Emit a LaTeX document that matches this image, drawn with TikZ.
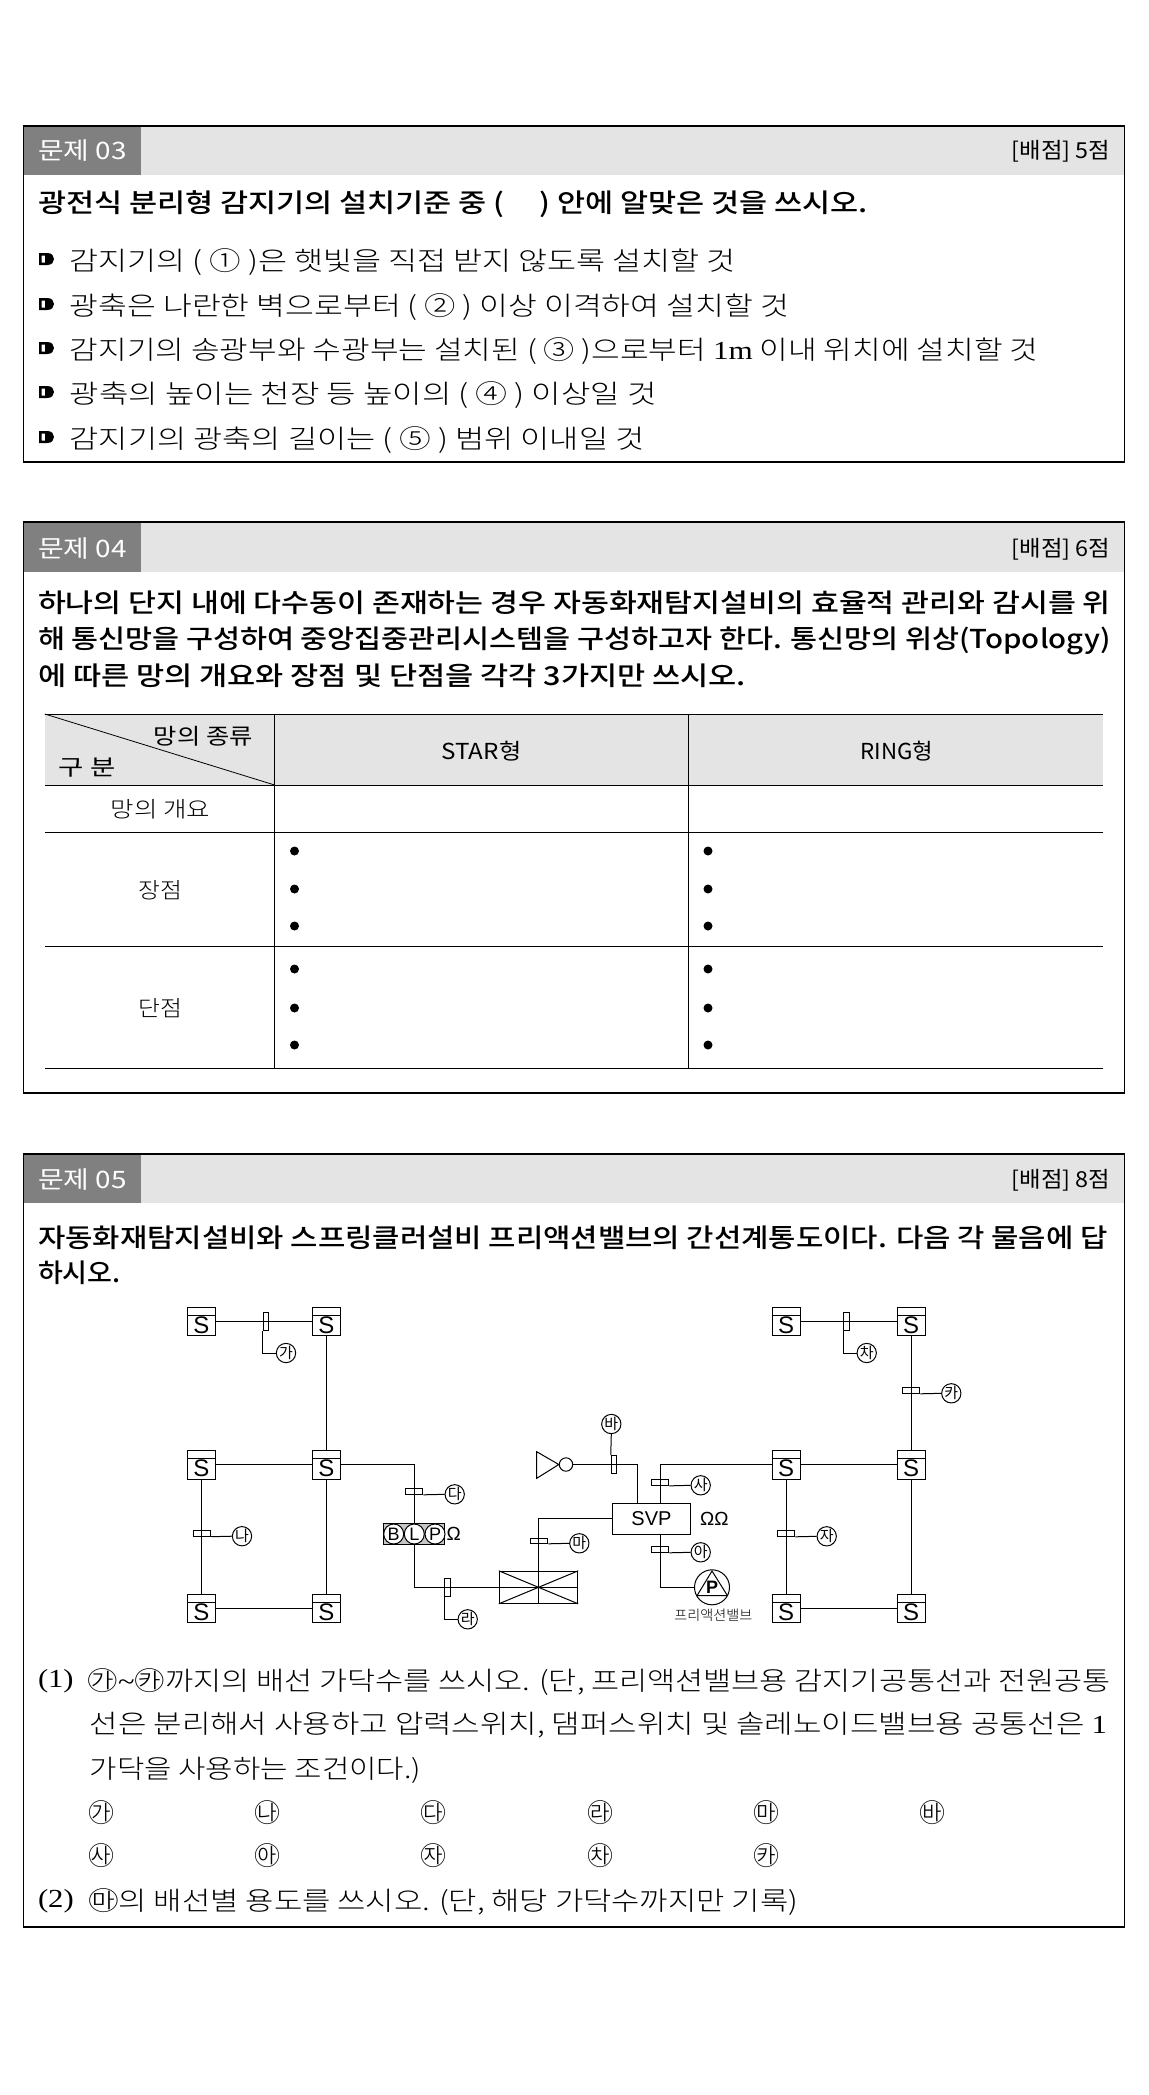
\documentclass[tikz,border=0pt]{standalone}
\usepackage{graphicx}
\usepackage{fontspec}
\setmainfont{Noto Sans CJK KR Light}
\newfontfamily\gt{Noto Sans CJK KR}
\newfontfamily\gtm{Noto Sans CJK KR Medium}
\newfontfamily\ser{Liberation Serif}
\newfontfamily\ari{Liberation Sans}
\newcommand\fitline[2]{\resizebox{#1}{\height}{#2}}
\newcommand\sz[1]{\fontsize{#1}{#1}\selectfont}
\newcommand\dbul[1]{%
  \fill[black,even odd rule] (39,#1-6) -- (47,#1-6) .. controls (52,#1-6) and (54,#1-3) .. (54,#1)
    .. controls (54,#1+3) and (52,#1+6) .. (47,#1+6) -- (39,#1+6) -- cycle
    (41.5,#1-3.5) rectangle (45,#1+3.5);}
\definecolor{hbar}{HTML}{E4E4E4}
\definecolor{hnum}{HTML}{808080}
\tikzset{
  x=1pt,y=-1pt,
  frameln/.style={line width=1.1pt,draw=black},
  tline/.style={line width=1pt,draw=black},
  body/.style={inner sep=0pt,anchor=base west,font=\sz{26}},
  titl/.style={inner sep=0pt,anchor=base west,font=\gtm\sz{26}},
  hdl/.style={inner sep=0pt,anchor=base west,text=white,font=\gt\sz{24}},
  hdr/.style={inner sep=0pt,anchor=base east,font=\gt\sz{22}},
  cell/.style={inner sep=0pt,anchor=base,font=\sz{22}},
  cellg/.style={inner sep=0pt,anchor=base,font=\gt\sz{22}},
  dotn/.style={circle,fill=black,inner sep=0pt,minimum size=9pt},
  wire/.style={line width=1pt,draw=black},
  sbox/.style={rectangle,wire,inner sep=0pt,minimum width=28pt,minimum height=28pt,
    path picture={\draw[wire] ([yshift=-8pt]path picture bounding box.north west) -- ([yshift=-8pt]path picture bounding box.north east);},
    label={[inner sep=0pt,yshift=-4pt,font=\ari\sz{24}]center:S}},
  tv/.style={rectangle,wire,inner sep=0pt,minimum width=5.5pt,minimum height=18pt},
  th/.style={rectangle,wire,inner sep=0pt,minimum width=17.5pt,minimum height=6pt},
  cc/.style={circle,wire,inner sep=0pt,minimum size=18.5pt,font=\gt\sz{15}},
  blpc/.style={circle,wire,fill=white,inner sep=0pt,minimum size=20pt,font=\ari\sz{18}},
}
\begin{document}
\begin{tikzpicture}
\useasboundingbox (0,0) rectangle (1148,2095);
\fill[white] (0,0) rectangle (1148,2095);

% ---------- box 03
\fill[hbar] (23.4,126) rectangle (1124.5,175);
\fill[hnum] (23.4,126) rectangle (141.3,175);
\draw[frameln] (23.4,126) rectangle (1124.5,462);
\node[hdl] (h3) at (37.8,160) {\fitline{88.5pt}{문제 03}};
\node[hdr] (p3) at (1110.3,159) {\fitline{98.5pt}{[배점] 5점}};
\node[titl] (q3) at (37.8,213) {\fitline{830pt}{광전식 분리형 감지기의 설치기준 중 (\hspace{30pt}) 안에 알맞은 것을 쓰시오.}};
\dbul{259}\dbul{304}\dbul{348}\dbul{392}\dbul{437}
\node[body] (a1) at (69.6,270) {\fitline{666pt}{감지기의 ( ① )은 햇빛을 직접 받지 않도록 설치할 것}};
\node[body] (a2) at (69.6,315) {\fitline{719pt}{광축은 나란한 벽으로부터 ( ② ) 이상 이격하여 설치할 것}};
\node[body] (a3) at (69.6,359) {\fitline{968.4pt}{감지기의 송광부와 수광부는 설치된 ( ③ )으로부터 {\ser 1m} 이내 위치에 설치할 것}};
\node[body] (a4) at (69.6,403) {\fitline{587pt}{광축의 높이는 천장 등 높이의 ( ④ ) 이상일 것}};
\node[body] (a5) at (69.6,448) {\fitline{574.6pt}{감지기의 광축의 길이는 ( ⑤ ) 범위 이내일 것}};

% ---------- box 04
\fill[hbar] (23.4,522) rectangle (1124.5,572);
\fill[hnum] (23.4,522) rectangle (141.3,572);
\draw[frameln] (23.4,522) rectangle (1124.5,1093);
\node[hdl] (h4) at (37.8,557) {\fitline{88.5pt}{문제 04}};
\node[hdr] (p4) at (1110.3,556) {\fitline{98.5pt}{[배점] 6점}};
\node[titl] (q4a) at (37.8,612) {\fitline{1072.5pt}{하나의 단지 내에 다수동이 존재하는 경우 자동화재탐지설비의 효율적 관리와 감시를 위}};
\node[titl] (q4b) at (37.8,648) {\fitline{1072.5pt}{해 통신망을 구성하여 중앙집중관리시스템을 구성하고자 한다. 통신망의 위상(Topology)}};
\node[titl] (q4c) at (37.8,685) {\fitline{708pt}{에 따른 망의 개요와 장점 및 단점을 각각 3가지만 쓰시오.}};

\fill[hbar] (44.8,714) rectangle (1103.4,785);
\draw[tline] (44.8,714) -- (1103.4,714);
\draw[tline] (44.8,785) -- (1103.4,785);
\draw[tline] (44.8,832) -- (1103.4,832);
\draw[tline] (44.8,946.5) -- (1103.4,946.5);
\draw[tline] (44.8,1068.5) -- (1103.4,1068.5);
\draw[tline] (274.6,714) -- (274.6,1068.5);
\draw[line width=0.8pt] (688.5,714) -- (688.5,1068.5);
\draw[line width=0.8pt] (44.8,714) -- (274.6,785);
\node[cellg] (th1) at (203.2,744) {\fitline{99pt}{망의 종류}};
\node[cellg] (th2) at (87,775) {\fitline{56.7pt}{구 분}};
\node[cellg] (th3) at (481.5,759) {\fitline{79.6pt}{STAR형}};
\node[cellg] (th4) at (897,759) {\fitline{72.6pt}{RING형}};
\node[cell] (r1) at (160.5,817) {\fitline{99.5pt}{망의 개요}};
\node[cell] (r2) at (160,898) {\fitline{43.8pt}{장점}};
\node[cell] (r3) at (160,1016) {\fitline{43.8pt}{단점}};
\foreach \yy/\nn in {851/a,889/b,926/c,969/d,1008/e,1045/f}{
  \node[dotn] (dl\nn) at (294.5,\yy) {};
  \node[dotn] (dr\nn) at (708,\yy) {};
}

% ---------- box 05
\fill[hbar] (23.4,1154) rectangle (1124.5,1203);
\fill[hnum] (23.4,1154) rectangle (141.3,1203);
\draw[frameln] (23.4,1154) rectangle (1124.5,1927);
\node[hdl] (h5) at (37.8,1188) {\fitline{88.5pt}{문제 05}};
\node[hdr] (p5) at (1110.3,1187) {\fitline{98.5pt}{[배점] 8점}};
\node[titl] (q5a) at (37.8,1247) {\fitline{1069.5pt}{자동화재탐지설비와 스프링클러설비 프리액션밸브의 간선계통도이다. 다음 각 물음에 답}};
\node[titl] (q5b) at (37.8,1282) {\fitline{82.6pt}{하시오.}};

% detectors
\node[sbox] (s11) at (201.5,1321.3) {};
\node[sbox] (s12) at (326.3,1321.3) {};
\node[sbox,minimum height=29pt] (s21) at (201.5,1464.5) {};
\node[sbox,minimum height=29pt] (s22) at (326.3,1464.5) {};
\node[sbox] (s31) at (201.5,1608.3) {};
\node[sbox] (s32) at (326.3,1608.3) {};
\node[sbox] (r11) at (786,1321.3) {};
\node[sbox] (r12) at (911,1321.3) {};
\node[sbox,minimum height=29pt] (r21) at (786,1464.5) {};
\node[sbox,minimum height=29pt] (r22) at (911,1464.5) {};
\node[sbox] (r31) at (786,1608.3) {};
\node[sbox] (r32) at (911,1608.3) {};
% panel, damper, bell, valve
\node[rectangle,wire,inner sep=0pt,minimum width=78.4pt,minimum height=31pt,font=\ari\sz{20}] (svp) at (651.5,1518.8) {SVP};
\coordinate (svpa) at (637.3,1503.3);
\coordinate (svpb) at (660.3,1503.3);
\coordinate (svpc) at (660.3,1534.3);
\node[rectangle,wire,inner sep=0pt,minimum width=78.4pt,minimum height=32pt] (dmp) at (538.5,1587.3) {};
\draw[wire] (dmp.north west) -- (dmp.south east);
\draw[wire] (dmp.south west) -- (dmp.north east);
\draw[wire] (dmp.west) -- (dmp.east);
\draw[wire] (dmp.north) -- (dmp.south);
\node[rectangle,wire,fill=gray!45,inner sep=0pt,minimum width=61.4pt,minimum height=21.4pt] (blp) at (414.2,1534) {};
\node[blpc] (bb) at (393.7,1534) {B};
\node[blpc] (bl) at (414.3,1534) {L};
\node[blpc] (bp) at (435,1534) {P};
\node[inner sep=0pt,font=\ari\sz{19}] (om1) at (453.7,1534.3) {Ω};
\node[inner sep=0pt,font=\ari\sz{19}] (om2) at (714.3,1519.3) {ΩΩ};
\node[circle,wire,inner sep=0pt,minimum size=13.4pt] (bell) at (566,1464.5) {};
\coordinate (hornT) at (536.7,1451.7);
\coordinate (hornB) at (536.7,1478.3);
\draw[wire] (bell.west) -- (hornT) -- (hornB) -- cycle;
\node[circle,wire,inner sep=0pt,minimum size=35pt] (pv) at (712,1587.3) {};
\draw[wire] (712,1571) -- (697,1595.7) -- (727.5,1595.7) -- cycle;
\node[inner sep=0pt,font=\ari\bfseries\sz{18}] (pvt) at (712,1587) {P};
\node[inner sep=0pt,font=\sz{14}] (pvl) at (713.3,1615) {\fitline{78pt}{프리액션밸브}};

% wires between devices
\draw[wire] (s11.east) -- (s12.west);
\draw[wire] (s12.south) -- (s22.north);
\draw[wire] (s21.east) -- (s22.west);
\draw[wire] (s21.south) -- (s31.north);
\draw[wire] (s22.south) -- (s32.north);
\draw[wire] (s31.east) -- (s32.west);
\draw[wire] (r11.east) -- (r12.west);
\draw[wire] (r12.south) -- (r22.north);
\draw[wire] (r21.east) -- (r22.west);
\draw[wire] (r21.south) -- (r31.north);
\draw[wire] (r22.south) -- (r32.north);
\draw[wire] (r31.east) -- (r32.west);
\draw[wire] (s22.east) -| (blp.north);
\draw[wire] (blp.south) |- (dmp.west);
\draw[wire] (dmp.north) |- (svp.west);
\draw[wire] (bell.east) -| (svpa);
\draw[wire] (svpb) |- (r21.west);
\draw[wire] (svpc) |- (pv.west);

% ticks and tags
\node[tv] (tga) at (266,1321.3) {};
\node[cc] (cga) at (286,1353) {가};
\draw[wire] (tga.south west) |- (cga.west);
\node[th] (tna) at (202,1533.2) {};
\node[cc] (cna) at (242,1536.2) {나};
\draw[wire] (tna.south east) -- (cna.west);
\node[th] (tda) at (414.2,1491.3) {};
\node[cc] (cda) at (454.7,1494.3) {다};
\draw[wire] (tda.south east) -- (cda.west);
\node[tv] (tra) at (447.3,1587.3) {};
\node[cc] (cra) at (467.7,1619.3) {라};
\draw[wire] (tra.south west) |- (cra.west);
\node[th,minimum height=5pt] (tma) at (539,1540.8) {};
\node[cc] (cma) at (579.3,1543.3) {마};
\draw[wire] (tma.south east) -- (cma.west);
\node[tv] (tba) at (614,1464.7) {};
\node[cc] (cba) at (611.3,1424) {바};
\draw[wire] (tba.north west) -- (cba.south);
\node[th,minimum height=5.5pt] (tsa) at (660,1482.6) {};
\node[cc] (csa) at (700.7,1485.3) {사};
\draw[wire] (tsa.south east) -- (csa.west);
\node[th] (taa) at (660,1549.3) {};
\node[cc] (caa) at (700.7,1552.3) {아};
\draw[wire] (taa.south east) -- (caa.west);
\node[th] (tja) at (786,1533.3) {};
\node[cc] (cja) at (826.7,1536.3) {자};
\draw[wire] (tja.south east) -- (cja.west);
\node[tv] (tca) at (846.7,1321.3) {};
\node[cc] (cca) at (866.7,1353) {차};
\draw[wire] (tca.south west) |- (cca.west);
\node[th] (tka) at (911,1390.3) {};
\node[cc] (cka) at (951.3,1393.3) {카};
\draw[wire] (tka.south east) -- (cka.west);

% questions
\node[body] (b1) at (37.8,1690) {\fitline{1072.5pt}{\raisebox{3pt}{\ser (1)}\hspace{12pt}㉮{\ser\char"007E}㉸까지의 배선 가닥수를 쓰시오. (단, 프리액션밸브용 감지기공통선과 전원공통}};
\node[body] (b2) at (89.6,1733) {\fitline{1017.4pt}{선은 분리해서 사용하고 압력스위치, 댐퍼스위치 및 솔레노이드밸브용 공통선은 {\ser 1}}};
\node[body] (b3) at (89.6,1778) {\fitline{331.3pt}{가닥을 사용하는 조건이다.)}};
\node[body,anchor=base] (m1) at (101,1822) {㉮};
\node[body,anchor=base] (m2) at (267.2,1822) {㉯};
\node[body,anchor=base] (m3) at (433.8,1822) {㉰};
\node[body,anchor=base] (m4) at (600.4,1822) {㉱};
\node[body,anchor=base] (m5) at (766.5,1822) {㉲};
\node[body,anchor=base] (m6) at (932,1822) {㉳};
\node[body,anchor=base] (m7) at (101,1865) {㉴};
\node[body,anchor=base] (m8) at (267.2,1865) {㉵};
\node[body,anchor=base] (m9) at (433.8,1865) {㉶};
\node[body,anchor=base] (m10) at (600.4,1865) {㉷};
\node[body,anchor=base] (m11) at (766.5,1865) {㉸};
\node[body] (b4) at (37.8,1910) {\fitline{760pt}{\raisebox{3pt}{\ser (2)}\hspace{12pt}㉲의 배선별 용도를 쓰시오. (단, 해당 가닥수까지만 기록)}};
\end{tikzpicture}
\end{document}
